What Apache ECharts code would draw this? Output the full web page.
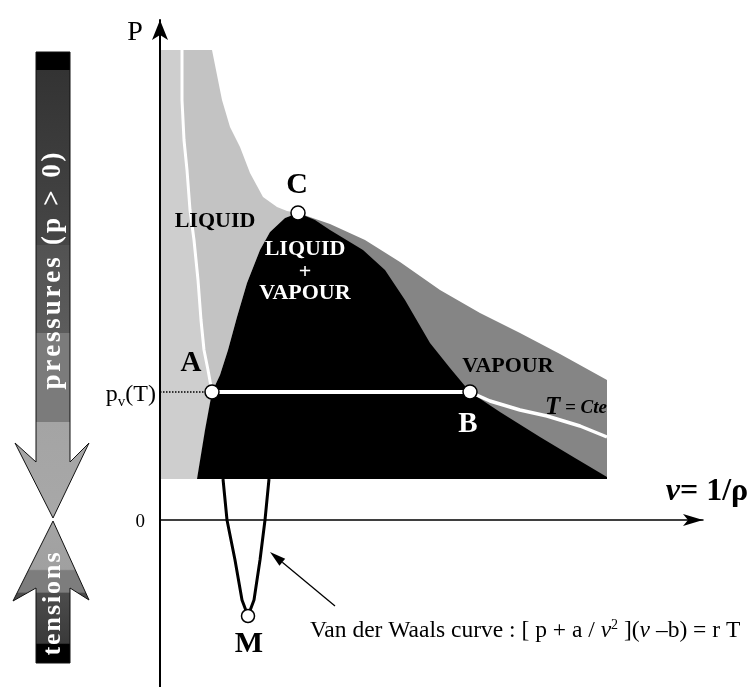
<!DOCTYPE html>
<html><head><meta charset="utf-8">
<script src="https://cdn.jsdelivr.net/npm/echarts@6/dist/echarts.min.js"></script>
<style>html,body{margin:0;padding:0;background:#fff}#c{width:756px;height:687px}</style>
</head><body><div id="c"></div>
<script>
// ---- data (v = 1/rho on x, p on y; schematic units) ----
const pointA = [1.04, 2.56];
const pointB = [6.20, 2.56];
const pointC = [2.76, 6.14];
const pointM = [1.76, -1.92];
const pvT = 2.56;
const liquidRegion = [[0.02,9.4],[1.04,9.4],[1.24,8.4],[1.40,7.86],[1.60,7.46],[1.80,6.94],[2.06,6.46],[2.34,6.26],[2.54,6.18],[2.76,6.14],[2.50,6.04],[2.20,5.76],[2.00,5.40],[1.74,4.74],[1.54,4.06],[1.36,3.40],[1.20,2.90],[1.04,2.56],[0.90,1.80],[0.74,0.82],[0.02,0.82]];
const liquidStrip = [[0.02,9.4],[0.44,9.4],[0.44,8.4],[0.48,7.6],[0.54,7.0],[0.60,6.2],[0.68,5.6],[0.76,4.8],[0.82,4.0],[0.88,3.4],[0.96,3.0],[1.04,2.56],[0.90,1.80],[0.74,0.82],[0.02,0.82]];
const vapourRegion = [[2.76,6.14],[3.40,5.92],[4.10,5.60],[4.80,5.16],[5.60,4.60],[6.40,4.14],[7.20,3.74],[8.00,3.32],[8.94,2.80],[8.94,0.82],[2.80,0.82]];
const twoPhaseDome = [[0.74,0.82],[0.90,1.80],[1.04,2.56],[1.20,2.90],[1.36,3.40],[1.54,4.06],[1.74,4.74],[2.00,5.40],[2.20,5.76],[2.50,6.04],[2.76,6.14],[3.10,6.00],[3.40,5.80],[4.06,5.40],[4.50,5.00],[4.90,4.40],[5.40,3.54],[5.80,3.04],[6.20,2.56],[6.80,2.16],[7.60,1.66],[8.30,1.24],[8.94,0.86],[8.94,0.82]];
const isothermLiquid = [[0.44,9.4],[0.44,8.4],[0.48,7.6],[0.54,7.0],[0.60,6.2],[0.68,5.6],[0.76,4.8],[0.82,4.0],[0.88,3.4],[0.96,3.0],[1.04,2.56]];
const isothermVapour = [[6.20,2.56],[6.60,2.38],[7.20,2.20],[7.74,2.08],[8.40,1.88],[8.94,1.66]];
const vdwLoop = [[1.26,0.82],[1.34,0],[1.50,-0.8],[1.64,-1.6],[1.76,-1.92],[1.88,-1.6],[2.00,-0.8],[2.10,0],[2.18,0.82]];
const vdwPointer = [[3.50,-1.72],[2.20,-0.64]];

const serif = '"Liberation Serif","DejaVu Serif",serif';
const chart = echarts.init(document.getElementById('c'));

function poly(pts, color, z) {
  return {type:'custom', coordinateSystem:'cartesian2d', z:z, silent:true, clip:false, data:pts,
    renderItem:function(params, api){
      if (params.dataIndex !== 0) return;
      return {type:'polygon', shape:{points: pts.map(function(p){return api.coord(p);})}, style:{fill:color}};
    }};
}
function line(pts, color, width, z, type) {
  return {type:'line', data:pts, showSymbol:false, silent:true, z:z, animation:false,
    lineStyle:{color:color, width:width, type:type||'solid'}};
}

chart.setOption({
  animation:false,
  backgroundColor:'#fff',
  grid:{left:160, right:53, top:20, bottom:0},
  xAxis:{type:'value', min:0, max:10.86,
    axisLine:{onZero:true, symbol:['none','arrow'], symbolSize:[9,20], lineStyle:{color:'#000', width:1.5}},
    axisTick:{show:false}, axisLabel:{show:false}, splitLine:{show:false}},
  yAxis:{type:'value', min:-3.34, max:10,
    axisLine:{onZero:false, symbol:['none','arrow'], symbolSize:[12,20], lineStyle:{color:'#000', width:2}},
    axisTick:{show:false}, axisLabel:{show:false}, splitLine:{show:false}},
  series:[
    poly(liquidRegion, '#c3c3c3', 1),
    poly(liquidStrip, '#cecece', 1),
    poly(vapourRegion, '#858585', 2),
    poly(twoPhaseDome, '#000000', 3),
    line(isothermLiquid, '#fff', 3, 4),
    line([pointA, pointB], '#fff', 4, 4),
    line(isothermVapour, '#fff', 3.5, 4),
    line([[0, pvT], pointA], '#000', 1.5, 4, 'dotted'),
    line(vdwLoop, '#000', 3, 4),
    {type:'scatter', data:[pointA, pointB, pointC], symbol:'circle', symbolSize:14, z:6, silent:true,
      itemStyle:{color:'#fff', borderColor:'#000', borderWidth:1.5, opacity:1}},
    {type:'scatter', data:[pointM], symbol:'circle', symbolSize:13, z:6, silent:true,
      itemStyle:{color:'#fff', borderColor:'#000', borderWidth:1.5, opacity:1}}
  ]
});

const px = function(p){ return chart.convertToPixel({gridIndex:0}, p); };
const g = [];
function txt(x, y, text, font, fill, align, extra) {
  const el = {type:'text', x:x, y:y, z:100, silent:true,
    style:Object.assign({text:text, font:font, fill:fill, align:align||'center', verticalAlign:'middle'}, extra||{})};
  g.push(el); return el;
}
const mctx = document.createElement('canvas').getContext('2d');
// vertical text reading bottom-to-top, spread to a given length
function spacedVertical(cx, cy, text, font, length, fill) {
  mctx.font = font;
  const chars = Array.from(text);
  const ws = chars.map(function(ch){ return mctx.measureText(ch).width; });
  const sum = ws.reduce(function(a,b){return a+b;}, 0);
  const sp = (length - sum) / (chars.length - 1);
  let pos = -length/2;
  chars.forEach(function(ch, i){
    const mid = pos + ws[i]/2;
    if (ch !== ' ') g.push({type:'text', x:cx, y:cy - mid, rotation:Math.PI/2, z:100, silent:true,
      style:{text:ch, font:font, fill:fill, align:'center', verticalAlign:'middle'}});
    pos += ws[i] + sp;
  });
}
// left decorative arrows
g.push({type:'polygon', z:50, silent:true,
  shape:{points:[[36,52],[70,52],[70,462],[89,443],[53,518],[15,443],[36,462]]},
  style:{stroke:'#111', lineWidth:1, fill:{type:'linear', global:true, x:0, y:52, x2:0, y2:518, colorStops:[
    {offset:0,color:'#000'},{offset:0.038,color:'#000'},{offset:0.039,color:'#333'},{offset:0.414,color:'#464646'},
    {offset:0.415,color:'#525252'},{offset:0.602,color:'#5c5c5c'},{offset:0.603,color:'#7b7b7b'},{offset:0.793,color:'#7b7b7b'},
    {offset:0.794,color:'#a4a4a4'},{offset:1,color:'#a8a8a8'}]}}});
g.push({type:'polygon', z:50, silent:true,
  shape:{points:[[53,521],[89,600],[70,588],[70,663],[36,663],[36,588],[13,601]]},
  style:{stroke:'#111', lineWidth:1, fill:{type:'linear', global:true, x:0, y:521, x2:0, y2:663, colorStops:[
    {offset:0,color:'#a4a4a4'},{offset:0.34,color:'#a0a0a0'},{offset:0.35,color:'#7d7d7d'},{offset:0.5,color:'#7d7d7d'},
    {offset:0.51,color:'#4c4c4c'},{offset:0.86,color:'#3a3a3a'},{offset:0.87,color:'#000'},{offset:1,color:'#000'}]}}});
spacedVertical(53, 271, 'pressures (p > 0)', 'bold 27px ' + serif, 237, '#fff');
spacedVertical(53, 604, 'tensions', 'bold 26px ' + serif, 103, '#fff');

// axis texts
txt(135, 33, 'P', '28px ' + serif, '#000');
const o = px([0,0]);
txt(o[0]-15, o[1]+2, '0', '19px ' + serif, '#000', 'right');
const pv = px([0,pvT]);
txt(pv[0]-4, pv[1]+3, '{a|p}{b|v}{a|(T)}', '24px ' + serif, '#000', 'right',
  {rich:{a:{font:'24px ' + serif, fill:'#000', lineHeight:30}, b:{font:'15px ' + serif, fill:'#000', verticalAlign:'bottom', lineHeight:30}}});
txt(707, 492, '{v|v}{r|= 1/ρ}', 'bold 32px ' + serif, '#000', 'center',
  {rich:{v:{font:'italic bold 32px ' + serif, fill:'#000'}, r:{font:'bold 32px ' + serif, fill:'#000'}}});

// point labels
const A = px(pointA), B = px(pointB), C = px(pointC), M = px(pointM);
txt(A[0]-21, A[1]-28, 'A', 'bold 29px ' + serif, '#000');
txt(B[0]-2, B[1]+33, 'B', 'bold 29px ' + serif, '#fff');
txt(C[0]-1, C[1]-28, 'C', 'bold 30px ' + serif, '#000');
txt(M[0]+1, M[1]+28, 'M', 'bold 30px ' + serif, '#000');

// region labels
txt(215, 221, 'LIQUID', 'bold 22px ' + serif, '#000');
txt(305, 249, 'LIQUID', 'bold 22px ' + serif, '#fff');
txt(305, 272, '+', 'bold 22px ' + serif, '#fff');
txt(305, 293, 'VAPOUR', 'bold 22px ' + serif, '#fff');
txt(508, 366, 'VAPOUR', 'bold 22px ' + serif, '#000');
txt(607, 408, '{t|T}{e| = Cte}', 'bold 20px ' + serif, '#000', 'right',
  {rich:{t:{font:'italic bold 25px ' + serif, fill:'#000'}, e:{font:'italic bold 19px ' + serif, fill:'#000'}}});

// Van der Waals annotation
const p0 = px(vdwPointer[0]), p1 = px(vdwPointer[1]);
const ang = Math.atan2(p1[1]-p0[1], p1[0]-p0[0]);
const hl = 16, hw = 4.5;
const bx = p1[0]-hl*Math.cos(ang), by = p1[1]-hl*Math.sin(ang);
g.push({type:'line', z:60, silent:true, shape:{x1:p0[0], y1:p0[1], x2:bx, y2:by}, style:{stroke:'#000', lineWidth:1.3}});
g.push({type:'polygon', z:60, silent:true, shape:{points:[[p1[0],p1[1]],[bx+hw*Math.sin(ang), by-hw*Math.cos(ang)],[bx-hw*Math.sin(ang), by+hw*Math.cos(ang)]]}, style:{fill:'#000'}});
const fs = 23.5;
txt(310, 631, '{n|Van der Waals curve : [ p + a / }{i|ν}{s|2}{n| ](}{i|ν}{n| –b) = r T}', fs + 'px ' + serif, '#000', 'left',
  {rich:{n:{font:fs + 'px ' + serif, fill:'#000'}, i:{font:'italic ' + fs + 'px ' + serif, fill:'#000'}, s:{font:'14px ' + serif, fill:'#000', verticalAlign:'top', lineHeight:26}}});

chart.setOption({graphic:{elements:g}});
</script>
</body></html>
